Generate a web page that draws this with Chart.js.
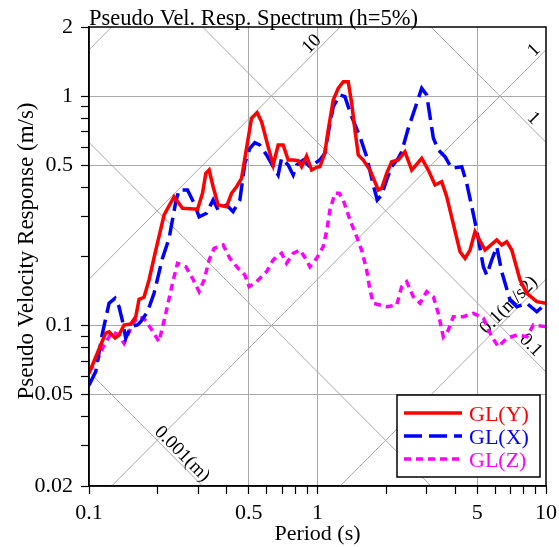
<!DOCTYPE html>
<html>
<head>
<meta charset="utf-8">
<script src="https://cdn.jsdelivr.net/npm/chart.js@4.4.1/dist/chart.umd.min.js"></script>
<style>
html,body{margin:0;padding:0;background:#fff;}
#wrap{width:559px;height:547px;position:relative;}
canvas{display:block;}
</style>
</head>
<body>
<div id="wrap"><canvas id="c" width="559" height="547"></canvas></div>
<script>
// ---------- data ----------
const periodsY = [0.1,0.1125,0.1183,0.1224,0.130,0.1353,0.1423,0.1523,0.1602,0.1656,0.1741,0.1831,0.196,0.2131,0.2357,0.2566,0.2985,0.3139,0.3245,0.3355,0.3493,0.3673,0.3998,0.4205,0.4422,0.4651,0.489,0.5145,0.5443,0.569,0.6081,0.6397,0.6728,0.7074,0.7442,0.7826,0.8232,0.852,0.896,0.9422,0.991,1.024,1.077,1.114,1.172,1.232,1.296,1.363,1.411,1.458,1.508,1.586,1.697,1.845,1.909,2.008,2.112,2.257,2.414,2.584,2.858,3.054,3.268,3.496,3.677,4.205,4.422,4.651,4.89,5.41,6.087,6.402,6.733,7.084,7.699,8.24,9.115,10];
const glY = [0.062,0.0823,0.0928,0.0940,0.0883,0.0910,0.1006,0.1016,0.1093,0.1302,0.1328,0.158,0.2134,0.3033,0.3646,0.3244,0.3212,0.3771,0.4608,0.4762,0.4027,0.3353,0.3296,0.3771,0.4027,0.4382,0.5922,0.800,0.8463,0.7734,0.6018,0.5008,0.6121,0.6121,0.5266,0.5266,0.5228,0.4922,0.5482,0.4762,0.4894,0.4922,0.565,0.7114,0.9616,1.081,1.155,1.155,0.930,0.7114,0.5537,0.5266,0.4762,0.3898,0.3965,0.4608,0.5176,0.5266,0.5724,0.4762,0.536,0.4762,0.4098,0.4236,0.3646,0.2098,0.1964,0.2134,0.2564,0.2134,0.236,0.2244,0.232,0.2134,0.158,0.1383,0.1271,0.1251];

const periodsX = [0.1,0.107,0.1145,0.1224,0.130,0.1353,0.1409,0.1448,0.1523,0.1629,0.1685,0.1803,0.1926,0.2097,0.2241,0.2398,0.2479,0.2698,0.2884,0.3033,0.3268,0.3493,0.3673,0.3998,0.4273,0.4573,0.4808,0.5058,0.5318,0.5593,0.5984,0.6397,0.6728,0.6961,0.7442,0.7826,0.8101,0.8659,0.9262,0.974,1.024,1.077,1.114,1.172,1.253,1.318,1.411,1.534,1.641,1.754,1.826,1.909,2.008,2.112,2.257,2.336,2.496,2.718,2.858,3.005,3.076,3.213,3.378,3.614,3.868,4.279,4.499,4.977,5.318,5.503,5.788,6.087,6.402,6.961,7.449,8.24,9.115,10];
const glX = [0.055,0.063,0.0926,0.1251,0.1315,0.1209,0.1023,0.088,0.0989,0.1006,0.104,0.1149,0.1383,0.1964,0.24,0.3466,0.3898,0.3898,0.341,0.298,0.3086,0.3526,0.3188,0.3353,0.3136,0.3526,0.5094,0.5922,0.6264,0.6121,0.5537,0.4922,0.453,0.536,0.5008,0.453,0.5008,0.5266,0.4922,0.5094,0.5266,0.5632,0.6882,0.8988,1.011,0.9938,0.813,0.6654,0.5444,0.4098,0.3526,0.3707,0.4309,0.4922,0.536,0.5724,0.7236,0.93,1.081,1.011,0.8694,0.6568,0.5822,0.5444,0.4844,0.4922,0.4168,0.2608,0.1805,0.1661,0.1931,0.2206,0.1717,0.1293,0.1209,0.1251,0.1149,0.1251];

const periodsZ = [0.1,0.1088,0.1163,0.1266,0.1353,0.1423,0.1523,0.1629,0.1741,0.1863,0.2026,0.2168,0.2319,0.2439,0.2652,0.2837,0.3033,0.319,0.3355,0.3528,0.3864,0.4133,0.4494,0.4808,0.5022,0.541,0.5984,0.6397,0.6961,0.7321,0.7826,0.8374,0.896,0.9262,0.991,1.059,1.099,1.133,1.192,1.245,1.296,1.387,1.484,1.56,1.641,1.697,1.754,2.008,2.221,2.336,2.456,2.626,2.81,3.005,3.213,3.378,3.553,3.737,3.93,4.348,4.808,5.318,5.788,6.186,6.733,7.449,8.24,8.807,10];
const glZ = [0.0632,0.0708,0.0823,0.094,0.091,0.0837,0.0973,0.1093,0.1076,0.0973,0.0851,0.1131,0.1528,0.1868,0.1805,0.1607,0.1405,0.158,0.1931,0.2171,0.2244,0.1964,0.1776,0.1661,0.1478,0.1553,0.1717,0.1931,0.2065,0.1868,0.2065,0.2134,0.1931,0.1805,0.1964,0.2206,0.2608,0.3188,0.3771,0.3771,0.3526,0.2884,0.244,0.2134,0.1746,0.1429,0.1251,0.1209,0.1229,0.1478,0.1553,0.1336,0.1251,0.1405,0.1336,0.1131,0.0894,0.0956,0.1093,0.1093,0.1131,0.1079,0.0894,0.0809,0.088,0.091,0.0894,0.1006,0.0989];

const seriesNames = ['GL(Y)','GL(X)','GL(Z)'];

// axis ticks
const xTickValues = [0.1,0.2,0.3,0.4,0.5,0.6,0.7,0.8,0.9,1,2,3,4,5,6,7,8,9,10];
const xTickLabels = ['0.1','0.5','1','5','10'];
const yTickValues = [0.02,0.03,0.04,0.05,0.06,0.07,0.08,0.09,0.1,0.2,0.3,0.4,0.5,0.6,0.7,0.8,0.9,1,2];
const yTickLabels = ['0.02','0.05','0.1','0.5','1','2'];

// tripartite guide lines
const accelValues = [0.1, 1, 10, 100];          // m/s2
const accelTexts  = ['0.1(m/s2)', '1', '10', ''];
const dispValues  = [0.001, 0.01, 0.1, 1];      // m
const dispTexts   = ['0.001(m)', '', '0.1', '1'];

// ---------- styling / layout ----------
const SERIF = "'Liberation Serif','Times New Roman',serif";
const accelLabelPeriod = [7.28, 9.4, 1.0, null];
const dispLabelPeriod  = [0.2412, null, 8.1, 8.32];
const GUIDE = '#a9a9a9';

function pts(ts, vs){ return ts.map((t,i)=>({x:t, y:vs[i]})); }
function near(v, list){ return list.some(l => Math.abs(Math.log10(v) - Math.log10(parseFloat(l))) < 1e-6); }

const guidePlugin = {
  id:'guides',
  beforeDatasetsDraw(chart){
    const {ctx, chartArea:a, scales:{x, y}} = chart;
    ctx.save();
    ctx.beginPath(); ctx.rect(a.left, a.top, a.right-a.left, a.bottom-a.top); ctx.clip();
    ctx.strokeStyle = GUIDE; ctx.lineWidth = 1;
    const T0 = 0.05, T1 = 20;
    const draw = (f, text, tl) => {
      const x0 = x.getPixelForValue(T0), y0 = y.getPixelForValue(f(T0));
      const x1 = x.getPixelForValue(T1), y1 = y.getPixelForValue(f(T1));
      ctx.beginPath(); ctx.moveTo(x0,y0); ctx.lineTo(x1,y1); ctx.stroke();
      if (text && tl){
        const th = Math.atan2(y1-y0, x1-x0);
        const px = x.getPixelForValue(tl), py = y.getPixelForValue(f(tl));
        const d = 8;
        ctx.save();
        ctx.translate(px + d*Math.sin(th), py - d*Math.cos(th));
        ctx.rotate(th);
        ctx.fillStyle = '#000';
        ctx.font = '19px ' + SERIF;
        ctx.textAlign = 'center'; ctx.textBaseline = 'middle';
        ctx.fillText(text, 0, 0);
        ctx.restore();
      }
    };
    accelValues.forEach((A,i)=> draw(T => A*T/(2*Math.PI), accelTexts[i], accelLabelPeriod[i]));
    dispValues.forEach((D,i)=> draw(T => 2*Math.PI*D/T, dispTexts[i], dispLabelPeriod[i]));
    ctx.restore();
  },
  afterDraw(chart){
    const {ctx, chartArea:a} = chart;
    ctx.save();
    // frame
    ctx.strokeStyle = '#000'; ctx.lineWidth = 1.5;
    ctx.strokeRect(a.left, a.top, a.right-a.left, a.bottom-a.top);
    // title
    ctx.fillStyle = '#000';
    ctx.font = '22.5px ' + SERIF;
    ctx.textAlign = 'left'; ctx.textBaseline = 'alphabetic';
    ctx.fillText('Pseudo Vel. Resp. Spectrum (h=5%)', a.left, a.top - 2);
    // x title
    ctx.font = '22px ' + SERIF;
    ctx.textAlign = 'center';
    ctx.fillText('Period (s)', (a.left+a.right)/2, 540);
    // y title
    ctx.save();
    ctx.font = '23px ' + SERIF;
    ctx.translate(27, 251);
    ctx.rotate(-Math.PI/2);
    ctx.textBaseline = 'middle';
    ctx.fillText('Pseudo Velocity Response (m/s)', 0, 0);
    ctx.restore();
    // legend
    const bw = 143, bh = 82;
    const bx = a.right - 6 - bw, by = a.bottom - 9 - bh;
    ctx.fillStyle = '#fff';
    ctx.fillRect(bx, by, bw, bh);
    ctx.strokeStyle = '#000'; ctx.lineWidth = 1.5;
    ctx.strokeRect(bx, by, bw, bh);
    chart.data.datasets.forEach((ds, i) => {
      const ly = by + 18 + i*23;
      ctx.strokeStyle = ds.borderColor; ctx.lineWidth = ds.borderWidth;
      ctx.setLineDash(ds.borderDash || []);
      ctx.beginPath(); ctx.moveTo(bx+7, ly); ctx.lineTo(bx+65, ly); ctx.stroke();
      ctx.setLineDash([]);
      ctx.fillStyle = ds.borderColor;
      ctx.font = '22px ' + SERIF;
      ctx.textAlign = 'left'; ctx.textBaseline = 'middle';
      ctx.fillText(ds.label, bx+72, ly+2);
    });
    ctx.restore();
  }
};

const gridColor = labels => (c) => {
  const v = c.tick && c.tick.value;
  if (v === undefined) return 'rgba(0,0,0,0)';
  return near(v, labels) ? GUIDE : 'rgba(0,0,0,0)';
};

new Chart(document.getElementById('c'), {
  type:'line',
  data:{
    datasets:[
      {label:seriesNames[0], data:pts(periodsY, glY), borderColor:'#ff0000', borderWidth:3.5, pointRadius:0, tension:0, fill:false},
      {label:seriesNames[1], data:pts(periodsX, glX), borderColor:'#0000ff', borderWidth:3.5, borderDash:[18,7], pointRadius:0, tension:0, fill:false},
      {label:seriesNames[2], data:pts(periodsZ, glZ), borderColor:'#ff00ff', borderWidth:3.5, borderDash:[7,5], pointRadius:0, tension:0, fill:false}
    ]
  },
  options:{
    responsive:false,
    animation:false,
    devicePixelRatio:1,
    layout:{padding:{left:0, right:13, top:27, bottom:0}},
    plugins:{legend:{display:false}, title:{display:false}, tooltip:{enabled:false}},
    scales:{
      x:{
        type:'logarithmic', min:0.1, max:10, position:'bottom',
        afterBuildTicks: s => { s.ticks = xTickValues.map(v => ({value:v})); },
        afterFit: s => { s.height = 61; s.paddingLeft = 0; s.paddingRight = 0; },
        ticks:{autoSkip:false, maxRotation:0, minRotation:0, padding:6, color:'#000',
          font:{family:SERIF, size:22},
          callback: v => { const i = xTickLabels.findIndex(l => Math.abs(parseFloat(l)-v) < 1e-9); return i>=0 ? xTickLabels[i] : ''; }},
        grid:{color:gridColor(['0.5','1','5']), lineWidth:1, drawTicks:true, tickLength:8, tickColor:'#000', tickWidth:1.2},
        border:{display:true, color:'#000', width:1.5}
      },
      y:{
        type:'logarithmic', min:0.02, max:2, position:'left',
        afterBuildTicks: s => { s.ticks = yTickValues.map(v => ({value:v})); },
        afterFit: s => { s.width = 89; s.paddingTop = 0; s.paddingBottom = 0; },
        ticks:{autoSkip:false, padding:8, color:'#000',
          font:{family:SERIF, size:22},
          callback: v => { const i = yTickLabels.findIndex(l => Math.abs(parseFloat(l)-v) < 1e-9); return i>=0 ? yTickLabels[i] : ''; }},
        grid:{color:gridColor(['0.05','0.1','0.5','1']), lineWidth:1, drawTicks:true, tickLength:8, tickColor:'#000', tickWidth:1.2},
        border:{display:true, color:'#000', width:1.5}
      }
    }
  },
  plugins:[guidePlugin]
});
</script>
</body>
</html>
